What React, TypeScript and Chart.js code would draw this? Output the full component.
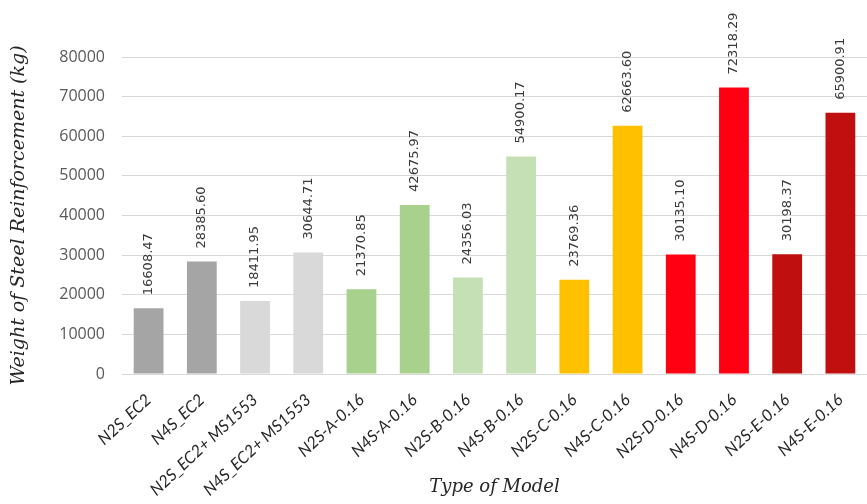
import React, { useEffect, useRef } from "react";
import { Chart, registerables } from "chart.js";

Chart.register(...registerables);

const categories = [
  "N2S_EC2",
  "N4S_EC2",
  "N2S_EC2+ MS1553",
  "N4S_EC2+ MS1553",
  "N2S-A-0.16",
  "N4S-A-0.16",
  "N2S-B-0.16",
  "N4S-B-0.16",
  "N2S-C-0.16",
  "N4S-C-0.16",
  "N2S-D-0.16",
  "N4S-D-0.16",
  "N2S-E-0.16",
  "N4S-E-0.16",
];

const weights = [
  16608.47, 28385.6, 18411.95, 30644.71, 21370.85, 42675.97, 24356.03,
  54900.17, 23769.36, 62663.6, 30135.1, 72318.29, 30198.37, 65900.91,
];

const barColors = [
  "#a5a5a5",
  "#a5a5a5",
  "#d9d9d9",
  "#d9d9d9",
  "#a9d18e",
  "#a9d18e",
  "#c5e0b4",
  "#c5e0b4",
  "#ffc000",
  "#ffc000",
  "#ff0012",
  "#ff0012",
  "#c00f0f",
  "#c00f0f",
];

const yTicks = [0, 10000, 20000, 30000, 40000, 50000, 60000, 70000, 80000];

const valueLabels = {
  id: "valueLabels",
  afterDatasetsDraw(chart: any) {
    const ctx = chart.ctx;
    const meta = chart.getDatasetMeta(0);
    ctx.save();
    ctx.font = "13px 'DejaVu Sans', sans-serif";
    ctx.fillStyle = "#3a3a3a";
    ctx.textAlign = "left";
    ctx.textBaseline = "middle";
    meta.data.forEach((el: any, i: number) => {
      ctx.save();
      ctx.translate(el.x, el.y - 13);
      ctx.rotate(-Math.PI / 2);
      ctx.fillText(weights[i].toFixed(2), 0, 0);
      ctx.restore();
    });
    ctx.restore();
  },
};

export default function App() {
  const ref = useRef<HTMLCanvasElement | null>(null);
  useEffect(() => {
    if (!ref.current) return;
    const chart = new Chart(ref.current, {
      type: "bar",
      data: {
        labels: categories,
        datasets: [
          {
            data: weights,
            backgroundColor: barColors,
            barPercentage: 0.56,
            categoryPercentage: 1,
          },
        ],
      },
      options: {
        animation: false,
        responsive: true,
        maintainAspectRatio: false,
        layout: { padding: { top: 57, right: 0, left: 0, bottom: 6 } },
        plugins: { legend: { display: false }, tooltip: { enabled: false } },
        scales: {
          x: {
            grid: { display: false },
            border: { display: false },
            ticks: {
              maxRotation: 43,
              minRotation: 43,
              autoSkip: false,
              color: "#262626",
              font: { family: "Lato, sans-serif", style: "italic", size: 16.5 },
              padding: 8,
            },
            title: {
              display: true,
              text: "Type of Model",
              color: "#262626",
              font: { family: "'DejaVu Serif', serif", style: "italic", size: 18 },
              padding: { top: 0, bottom: 0 },
            },
            afterFit(scale: any) {
              scale.height = 124;
            },
          },
          y: {
            min: 0,
            max: 80000,
            afterBuildTicks(scale: any) {
              scale.ticks = yTicks.map((v) => ({ value: v }));
            },
            grid: { color: "#d9d9d9", drawTicks: false },
            border: { display: false },
            ticks: {
              color: "#595959",
              font: { family: "'Open Sans', sans-serif", size: 16 },
              padding: 17,
              callback: (v: any) => String(v),
            },
            title: {
              display: true,
              text: "Weight of Steel Reinforcement (kg)",
              color: "#262626",
              font: { family: "'DejaVu Serif', serif", style: "italic", size: 19 },
              padding: { top: 8, bottom: 0 },
            },
            afterFit(scale: any) {
              scale.width = 122;
            },
          },
        },
      },
      plugins: [valueLabels],
    });
    return () => chart.destroy();
  }, []);
  return (
    <div style={{ position: "fixed", left: 0, top: 0, width: 867, height: 504, background: "#fff" }}>
      <canvas ref={ref} />
    </div>
  );
}
